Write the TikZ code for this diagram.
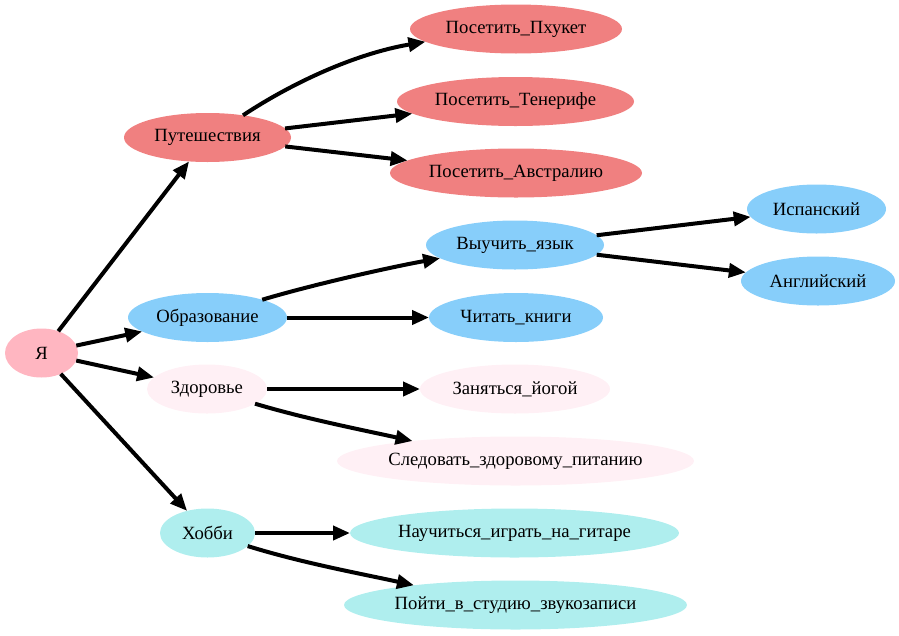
\documentclass[tikz,border=0pt]{standalone}
\usepackage{fontspec}
\setmainfont{Liberation Serif}
\usetikzlibrary{shapes.geometric,arrows.meta}
\newcommand\ztext[1]{\makebox[0pt]{#1}}
\definecolor{cpink}{HTML}{FFB6C1}
\definecolor{ccoral}{HTML}{F08080}
\definecolor{csky}{HTML}{87CEFA}
\definecolor{cblush}{HTML}{FFF0F5}
\definecolor{cturq}{HTML}{AFEEEE}
\begin{document}
\begin{tikzpicture}[x=1pt,y=-1pt,
  gv/.style={ellipse, inner sep=0pt, outer sep=0pt, minimum height=49pt,
    font=\fontsize{18.67}{22}\selectfont},
  edge/.style={line width=4pt, -{Triangle[length=17pt,width=14pt]}},
]
\useasboundingbox (0,0) rectangle (899,635);
% nodes
\node[gv, fill=cpink, minimum width=73pt] (ya) at (41.5,353) {\ztext{Я}};
\node[gv, fill=ccoral, minimum width=167pt] (put) at (207.5,137.5) {\ztext{Путешествия}};
\node[gv, fill=csky, minimum width=159pt] (obr) at (207.5,317.5) {\ztext{Образование}};
\node[gv, fill=cblush, minimum width=120pt] (zdr) at (207,389) {\ztext{Здоровье}};
\node[gv, fill=cturq, minimum width=95pt] (hob) at (207.5,533) {\ztext{Хобби}};
\node[gv, fill=ccoral, minimum width=212pt] (ph) at (516,29) {\ztext{Посетить\_Пхукет}};
\node[gv, fill=ccoral, minimum width=237pt] (ten) at (515.5,101.5) {\ztext{Посетить\_Тенерифе}};
\node[gv, fill=ccoral, minimum width=252pt] (avs) at (516,173) {\ztext{Посетить\_Австралию}};
\node[gv, fill=csky, minimum width=178pt] (vyu) at (515,245) {\ztext{Выучить\_язык}};
\node[gv, fill=csky, minimum width=174pt] (chi) at (516,317.5) {\ztext{Читать\_книги}};
\node[gv, fill=cblush, minimum width=190pt] (yog) at (515,389) {\ztext{Заняться\_йогой}};
\node[gv, fill=cblush, minimum width=357pt] (sle) at (515.5,461) {\ztext{Следовать\_здоровому\_питанию}};
\node[gv, fill=cturq, minimum width=329pt] (git) at (514.5,533) {\ztext{Научиться\_играть\_на\_гитаре}};
\node[gv, fill=cturq, minimum width=343pt] (stu) at (515.5,605) {\ztext{Пойти\_в\_студию\_звукозаписи}};
\node[gv, fill=csky, minimum width=139pt] (isp) at (816.5,209) {\ztext{Испанский}};
\node[gv, fill=csky, minimum width=154pt] (ang) at (818,281) {\ztext{Английский}};
% edges
\draw[edge] (ya) -- (put);
\draw[edge] (ya) -- (obr);
\draw[edge] (ya) -- (zdr);
\draw[edge] (ya) -- (hob);
\draw[edge] (put.32) .. controls +(50,-33) and +(-70,12) .. (ph.188);
\draw[edge] (put) -- (ten);
\draw[edge] (put) -- (avs);
\draw[edge] (obr.18) .. controls +(50,-15) and +(-50,9) .. (vyu.190);
\draw[edge] (obr) -- (chi);
\draw[edge] (vyu) -- (isp);
\draw[edge] (vyu) -- (ang);
\draw[edge] (zdr) -- (yog);
\draw[edge] (zdr.343) .. controls +(50,15) and +(-50,-11) .. (sle.169);
\draw[edge] (hob) -- (git);
\draw[edge] (hob.342) .. controls +(55,17) and +(-55,-12) .. (stu.169);
\end{tikzpicture}
\end{document}
